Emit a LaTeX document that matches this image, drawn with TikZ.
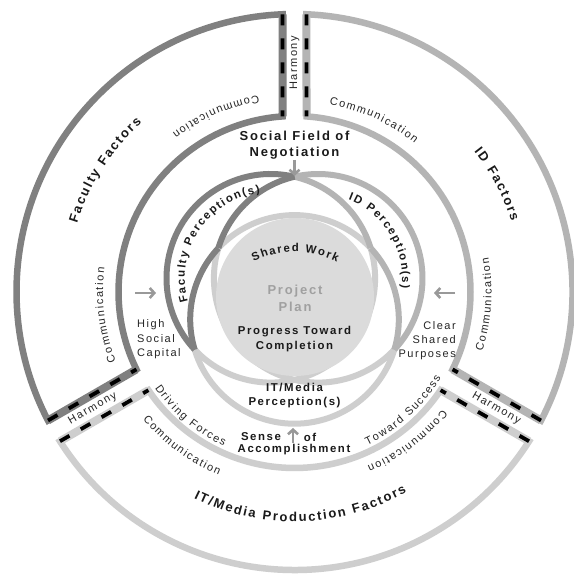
\documentclass[tikz,border=0pt]{standalone}
\usepackage{fontspec}
\setmainfont{Liberation Sans}[LetterSpace=14]
\newfontfamily\plainf{Liberation Sans}
\usetikzlibrary{decorations.text,arrows.meta,calc}
\definecolor{facc}{HTML}{808080}
\definecolor{idc}{HTML}{B4B4B4}
\definecolor{itc}{HTML}{CECECE}
\definecolor{diskc}{HTML}{DBDBDB}
\definecolor{planc}{HTML}{A0A0A0}
\definecolor{txtb}{HTML}{1A1A1A}
\definecolor{txtr}{HTML}{262626}
\definecolor{arrc}{HTML}{999999}
\newcommand\fbig{\bfseries\fontsize{13}{16}\selectfont}
\newcommand\fmid{\bfseries\fontsize{11.4}{13.5}\selectfont}
\newcommand\freg{\fontsize{11}{14}\selectfont}
% fonts for text along paths (tracking done with a kern per letter)
\newcommand\pbig{\plainf\bfseries\fontsize{13}{16}\selectfont\kern1.8pt}
\newcommand\pmid{\plainf\bfseries\fontsize{11.4}{13.5}\selectfont\kern1.6pt}
\newcommand\preg{\plainf\fontsize{11}{14}\selectfont\kern1.55pt}
\newcommand\mysector[3]{%
  \draw[ring,#3] ($(O)+({#1+2.47}:278)$) arc[start angle={#1+2.47},end angle={#2-2.47},radius=278]
     -- ($(O)+({#2-3.91}:176)$) arc[start angle={#2-3.91},end angle={#1+3.91},radius=176] -- cycle;
  \draw[band,#3] ($(O)+({#1+2.47}:278)$) -- ($(O)+({#1+3.91}:176)$);
  \draw[dashline] ($(O)+({#1+2.47}:278)$) -- ($(O)+({#1+3.91}:176)$);
  \draw[band,#3] ($(O)+({#2-2.47}:278)$) -- ($(O)+({#2-3.91}:176)$);
  \draw[dashline] ($(O)+({#2-2.47}:278)$) -- ($(O)+({#2-3.91}:176)$);
}
\newcommand\varc[4]{\draw[vring,#4] ($(#1)+({#2}:104.3)$) arc[start angle={#2},end angle={#3},radius=104.3];}
\tikzset{
  ring/.style={line width=6.5pt},
  band/.style={line width=8pt},
  dashline/.style={line width=3.8pt,black,dash pattern=on 11pt off 13pt},
  vring/.style={line width=6pt},
  ptext/.style 2 args={decorate,decoration={text along path,text align=center,text color=#1,text={#2}}},
  garrow/.style={arrc,line width=2.6pt,-{Straight Barb[length=4.5pt,width=10pt]}},
}
\begin{document}
\begin{tikzpicture}[x=1pt,y=1pt]
\useasboundingbox (0,0) rectangle (573,577);
\fill[white] (0,0) rectangle (573,577);
\coordinate (O) at (294.5,285);
\coordinate (A) at (270.8,298.7);
\coordinate (B) at (318.2,298.7);
\coordinate (C) at (294.5,257.6);
\coordinate (S) at (294.5,230);
% sectors
\mysector{90}{210}{facc}
\mysector{-30}{90}{idc}
\mysector{210}{330}{itc}
% venn circles: interior arcs
\varc{A}{283.1}{376.9}{itc}
\varc{B}{163.1}{256.9}{itc}
\varc{C}{43.1}{136.9}{itc}
% IT/Media-only boundary
\varc{C}{196.9}{343.1}{itc}
\varc{A}{223.1}{283.1}{itc}
\varc{B}{256.9}{316.9}{itc}
% ID-only boundary
\varc{B}{-43.1}{103.1}{idc}
\varc{A}{16.9}{76.9}{idc}
\varc{C}{-16.9}{43.1}{idc}
% Faculty-only boundary
\varc{A}{76.9}{223.1}{facc}
\varc{B}{103.1}{163.1}{facc}
\varc{C}{136.9}{196.9}{facc}
% project plan disk
\fill[diskc] (295,280) circle (79);
% curved labels in sectors
\path[ptext={txtb}{|\pbig|Faculty Factors}] ($(O)+(207.5:228)$) arc[start angle=207.5,end angle=87.5,radius=228];
\path[ptext={txtr}{|\preg|Communication}] ($(O)+(63.8:200)$) arc[start angle=63.8,end angle=163.8,radius=200];
\path[ptext={txtr}{|\preg|Communication}] ($(O)+(237.2:191.5)$) arc[start angle=237.2,end angle=137.2,radius=191.5];
\path[ptext={txtb}{|\pbig|ID Factors}] ($(O)+(88.2:228)$) arc[start angle=88.2,end angle=-31.8,radius=228];
\path[ptext={txtr}{|\preg|Communication}] ($(O)+(125.5:191)$) arc[start angle=125.5,end angle=5.5,radius=191];
\path[ptext={txtr}{|\preg|Communication}] ($(O)+(-54:197)$) arc[start angle=-54,end angle=46,radius=197];
\path[ptext={txtb}{|\pbig|IT/Media Production Factors}] ($(O)+(201.4:229.5)$) arc[start angle=201.4,end angle=341.4,radius=229.5];
\path[ptext={txtr}{|\preg|Communication}] ($(O)+(183.5:198)$) arc[start angle=183.5,end angle=283.5,radius=198];
\path[ptext={txtr}{|\preg|Communication}] ($(O)+(-2.7:189)$) arc[start angle=-2.7,end angle=-102.7,radius=189];
\path[ptext={txtr}{|\preg|Driving Forces}] ($(O)+(179.7:169.5)$) arc[start angle=179.7,end angle=279.7,radius=169.5];
\path[ptext={txtr}{|\preg|Toward Success}] ($(O)+(-97.7:169.5)$) arc[start angle=-97.7,end angle=2.3,radius=169.5];
% venn labels
\path[ptext={txtb}{|\pmid|Faculty Perception(s)}] ($(A)+(207:86)$) arc[start angle=207,end angle=87,radius=86];
\path[ptext={txtb}{|\pmid|ID Perception(s)}] ($(B)+(91.5:84)$) arc[start angle=91.5,end angle=-28.5,radius=84];
\path[ptext={txtb}{|\pmid|Shared Work}] ($(S)+(140:95)$) arc[start angle=140,end angle=40,radius=95];
% straight labels
\node[font=\bfseries\fontsize{13}{16}\selectfont,text=txtb,align=center,inner sep=0] (sfn) at (294.5,432) {Social Field of\\Negotiation};
\node[font=\bfseries\fontsize{13}{17}\selectfont,text=planc,align=center,inner sep=0] (pp) at (295,279) {Project\\Plan};
\node[font=\bfseries\fontsize{11.4}{15}\selectfont,text=txtb,align=center,inner sep=0] (ptc) at (294.5,237.5) {Progress Toward\\Completion};
\node[font=\bfseries\fontsize{11.4}{13.5}\selectfont,text=txtb,align=center,inner sep=0] (itp) at (294.5,181.5) {IT/Media\\Perception(s)};
\node[font=\fmid,text=txtb,inner sep=0] (sen) at (261,140) {Sense};
\node[font=\fmid,text=txtb,inner sep=0] (of) at (310,140) {of};
\node[font=\fmid,text=txtb,inner sep=0] (acc) at (294,127) {Accomplishment};
\node[font=\fontsize{11}{14.5}\selectfont,text=txtr,align=left,anchor=west,inner sep=0] (hsc) at (137,237.5) {High\\Social\\Capital};
\node[font=\fontsize{11}{14}\selectfont,text=txtr,align=right,anchor=east,inner sep=0] (csp) at (456,236) {Clear\\Shared\\Purposes};
\node[font=\freg,text=txtr,rotate=90,inner sep=0] (h1) at (294.5,514) {Harmony};
\node[font=\freg,text=txtr,rotate=30,inner sep=0] (h2) at ($(O)+(210:233)$) {Harmony};
\node[font=\freg,text=txtr,rotate=-30,inner sep=0] (h3) at ($(O)+(330:233)$) {Harmony};
% arrows
\coordinate (t1) at (294.5,417); \coordinate (t2) at (294.5,401);
\coordinate (l1) at (135,284); \coordinate (l2) at (156,284);
\coordinate (r1) at (455,284); \coordinate (r2) at (434,284);
\coordinate (b1) at (293,134); \coordinate (b2) at (293,149);
\draw[garrow] (t1) -- (t2);
\draw[garrow] (l1) -- (l2);
\draw[garrow] (r1) -- (r2);
\draw[garrow] (b1) -- (b2);
\end{tikzpicture}
\end{document}
